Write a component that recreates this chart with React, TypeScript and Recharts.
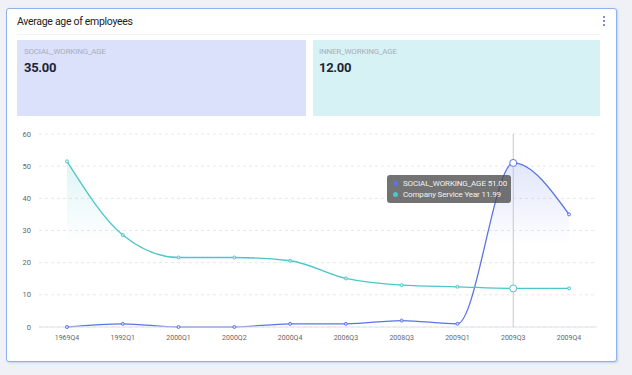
import { ComposedChart, Area, XAxis, YAxis, CartesianGrid, Tooltip } from 'recharts';

const quarters = ['1969Q4', '1992Q1', '2000Q1', '2000Q2', '2000Q4', '2006Q3', '2008Q3', '2009Q1', '2009Q3', '2009Q4'];
const socialWorkingAge = [0, 1, 0, 0, 1, 1, 2, 1, 51, 35];
const companyServiceYear = [51.5, 28.6, 21.6, 21.6, 20.6, 15.1, 13.0, 12.5, 11.99, 12.0];
const yTicks = [0, 10, 20, 30, 40, 50, 60];

const BLUE = '#5a74e6';
const CYAN = '#4cc6c9';
const FONT = 'Roboto, "Noto Sans", sans-serif';

const data = quarters.map((q, i) => ({
  quarter: q,
  social: socialWorkingAge[i],
  service: companyServiceYear[i],
}));

const TooltipBox = ({ payload }: any) => {
  if (!payload || !payload.length) return null;
  const row = payload[0].payload;
  const items = [
    { name: 'SOCIAL_WORKING_AGE', value: row.social, color: BLUE },
    { name: 'Company Service Year', value: row.service, color: CYAN },
  ];
  return (
    <div style={{ background: 'rgba(80,80,80,0.8)', borderRadius: 3, padding: '3px 4px 3px 6px', fontFamily: FONT, fontSize: 8, color: '#f2f2f2', lineHeight: '11px', whiteSpace: 'nowrap', letterSpacing: -0.15 }}>
      {items.map(it => (
        <div key={it.name} style={{ display: 'flex', alignItems: 'center' }}>
          <span style={{ width: 5, height: 5, borderRadius: 3, background: it.color, marginRight: 5, display: 'inline-block' }} />
          {it.name} {it.value.toFixed(2)}
        </div>
      ))}
    </div>
  );
};

export default function App() {
  return (
    <div style={{ position: 'relative', width: 632, height: 375, background: '#eff1f6', overflow: 'hidden', fontFamily: FONT }}>
      <style>{'body{margin:0}'}</style>
      {/* card */}
      <div style={{ position: 'absolute', left: 6, top: 8, width: 609, height: 352, background: '#fff', border: '1.5px solid #8fb2ec', borderRadius: 3, boxShadow: '1px 1px 2px rgba(100,130,200,0.3)' }} />
      <div style={{ position: 'absolute', left: 17, top: 15, fontSize: 10.5, color: '#222', letterSpacing: -0.3 }}>Average age of employees</div>
      <div style={{ position: 'absolute', left: 603, top: 16 }}>
        {[0, 1, 2].map(i => (
          <div key={i} style={{ width: 2, height: 2, background: '#7a8fd0', marginBottom: 2 }} />
        ))}
      </div>
      <div style={{ position: 'absolute', left: 17, top: 34, width: 584, height: 1, background: '#f2f3f6' }} />
      {/* kpi boxes */}
      <div style={{ position: 'absolute', left: 17, top: 40, width: 289, height: 76, background: '#dbe1fb' }}>
        <div style={{ position: 'absolute', left: 7, top: 7, fontSize: 8, color: '#a9adbb', letterSpacing: -0.2 }}>SOCIAL_WORKING_AGE</div>
        <div style={{ position: 'absolute', left: 7, top: 20, fontSize: 13, fontWeight: 700, color: '#1e2434', letterSpacing: -0.3 }}>35.00</div>
      </div>
      <div style={{ position: 'absolute', left: 313, top: 40, width: 287, height: 76, background: '#d7f2f4' }}>
        <div style={{ position: 'absolute', left: 6, top: 7, fontSize: 8, color: '#a9adbb', letterSpacing: -0.2 }}>INNER_WORKING_AGE</div>
        <div style={{ position: 'absolute', left: 6, top: 20, fontSize: 13, fontWeight: 700, color: '#1e2434', letterSpacing: -0.3 }}>12.00</div>
      </div>
      {/* chart */}
      <div style={{ position: 'absolute', left: 0, top: 0 }}>
        <ComposedChart width={632} height={375} data={data} margin={{ top: 134, right: 35, left: 14, bottom: 28 }}>
          <defs>
            <linearGradient id="gradBlue" x1="0" y1="0" x2="0" y2="1">
              <stop offset="0%" stopColor={BLUE} stopOpacity={0.3} />
              <stop offset="50%" stopColor={BLUE} stopOpacity={0} />
            </linearGradient>
            <linearGradient id="gradCyan" x1="0" y1="0" x2="0" y2="1">
              <stop offset="0%" stopColor={CYAN} stopOpacity={0.3} />
              <stop offset="50%" stopColor={CYAN} stopOpacity={0} />
            </linearGradient>
          </defs>
          <CartesianGrid vertical={false} stroke="#e6e8ec" strokeDasharray="3 3" />
          <XAxis dataKey="quarter" height={20} padding={{ left: 28, right: 28 }} axisLine={{ stroke: '#dfe2e8' }} tickLine={false} tick={{ fontSize: 7, fill: '#666', fontFamily: FONT }} interval={0} />
          <YAxis width={25} domain={[0, 60]} ticks={yTicks} axisLine={false} tickLine={false} tick={{ fontSize: 7.5, fill: '#666', fontFamily: FONT }} />
          <Tooltip
            defaultIndex={8}
            active
            isAnimationActive={false}
            position={{ x: 387, y: 175 }}
            cursor={{ stroke: '#c8c8c8', strokeWidth: 1 }}
            content={<TooltipBox />}
          />
          <Area
            type="monotone"
            dataKey="social"
            name="SOCIAL_WORKING_AGE"
            stroke={BLUE}
            strokeWidth={1.3}
            fill="url(#gradBlue)"
            dot={{ r: 1.5, fill: '#fff', stroke: BLUE, strokeWidth: 1 }}
            activeDot={{ r: 3.5, fill: '#fff', stroke: BLUE, strokeWidth: 1 }}
            isAnimationActive={false}
          />
          <Area
            type="monotone"
            dataKey="service"
            name="Company Service Year"
            stroke={CYAN}
            strokeWidth={1.3}
            fill="url(#gradCyan)"
            dot={{ r: 1.5, fill: '#fff', stroke: CYAN, strokeWidth: 1 }}
            activeDot={{ r: 3.5, fill: '#fff', stroke: CYAN, strokeWidth: 1 }}
            isAnimationActive={false}
          />
        </ComposedChart>
      </div>
    </div>
  );
}
